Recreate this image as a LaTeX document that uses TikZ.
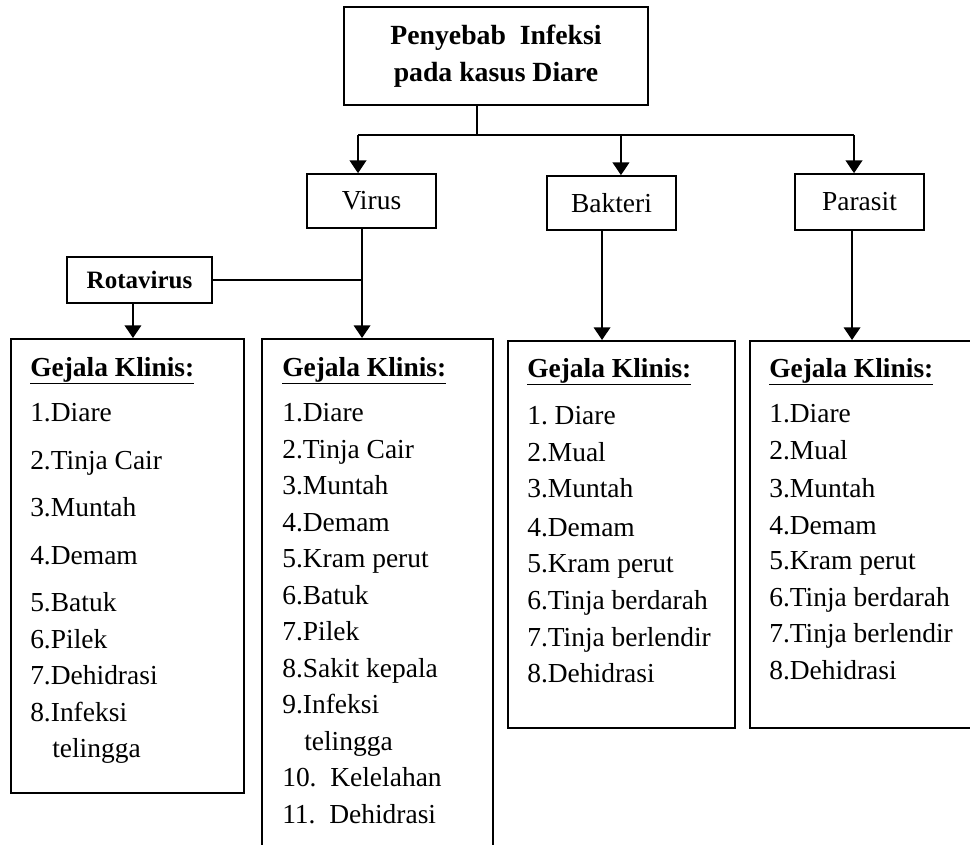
\documentclass[tikz,border=0pt]{standalone}
\usepackage{fontspec}
\setmainfont{Liberation Serif}
\usepackage{tikz}
\usetikzlibrary{arrows.meta}

\begin{document}
\begin{tikzpicture}[x=0.75pt,y=0.75pt,yscale=-1,xscale=1,
  kotak/.style={draw, line width=1.3pt, inner sep=0pt},
  garis/.style={line width=1.1pt},
  panah/.style={garis, -{Triangle[length=9.5pt,width=12.5pt]}},
  huruf/.style={font=\fontsize{20.6}{24}\selectfont},
  isi/.style={huruf, anchor=base west, inner sep=0pt},
  judulkolom/.style={isi, font=\fontsize{20.6}{24}\selectfont\bfseries}]
%set diagram size: 970 x 844
\clip (0,0) rectangle (970,844);

%Shape: Rectangle [judul]
\node[kotak, minimum width=228pt, minimum height=73.5pt, align=center,
  font=\fontsize{20.8}{27.75}\selectfont\bfseries] (judul) at (496,56) {Penyebab\ \ Infeksi\\pada kasus Diare};
%Shape: Rectangle [virus, bakteri, parasit]
\node[kotak, huruf, minimum width=96.75pt, minimum height=40.5pt] (virus) at (371.5,201) {Virus};
\node[kotak, huruf, minimum width=96.75pt, minimum height=40.5pt] (bakteri) at (611.5,203) {Bakteri};
\node[kotak, huruf, minimum width=96.75pt, minimum height=42pt] (parasit) at (859.5,202) {Parasit};
%Shape: Rectangle [rotavirus]
\node[kotak, minimum width=108.75pt, minimum height=34.5pt,
  font=\fontsize{18.75}{22}\selectfont\bfseries] (rota) at (139.5,280) {Rotavirus};

%Shape: Rectangle [gejala klinis]
\node[kotak, anchor=north west, minimum width=174.75pt, minimum height=340.5pt] (gejalaRota) at (10,338) {};
\node[kotak, anchor=north west, minimum width=173.25pt, minimum height=399pt] (gejalaVirus) at (261,338) {};
\node[kotak, anchor=north west, minimum width=170.25pt, minimum height=290.25pt] (gejalaBakteri) at (507,340) {};
\node[kotak, anchor=north west, minimum width=180.75pt, minimum height=290.25pt] (gejalaParasit) at (749,340) {};

%Straight Lines [cabang]
\coordinate (kiri) at (358,135);
\coordinate (kanan) at (854,135);
\draw[garis] ([xshift=-14.25pt]judul.south) -- ([xshift=-14.25pt]judul.south |- kiri);
\draw[garis] (kiri) -- (kanan);
\draw[panah] (kiri) -- (kiri |- virus.north);
\draw[panah] ([xshift=7.1pt]bakteri.north |- kiri) -- ([xshift=7.1pt]bakteri.north);
\draw[panah] (kanan) -- (kanan |- parasit.north);

%Straight Lines [ke gejala klinis]
\draw[panah] ([xshift=-7.1pt]virus.south) -- ([xshift=-7.1pt]virus.south |- gejalaVirus.north);
\draw[garis] (rota.east) -- ([xshift=-7.1pt]virus.south |- rota.east);
\draw[panah] ([xshift=-4.9pt]rota.south) -- ([xshift=-4.9pt]rota.south |- gejalaRota.north);
\draw[panah] ([xshift=-7.1pt]bakteri.south) -- ([xshift=-7.1pt]bakteri.south |- gejalaBakteri.north);
\draw[panah] ([xshift=-5.6pt]parasit.south) -- ([xshift=-5.6pt]parasit.south |- gejalaParasit.north);

% Text Node [judul kolom]
\node[judulkolom] (klinisRota) at (30,376) {\underline{Gejala Klinis:}};
\node[judulkolom] (klinisVirus) at (282,376) {\underline{Gejala Klinis:}};
\node[judulkolom] (klinisBakteri) at (527,377) {\underline{Gejala Klinis:}};
\node[judulkolom] (klinisParasit) at (769,377) {\underline{Gejala Klinis:}};

% Text Node [rotavirus]
\foreach \yy/\teks [count=\i] in {421/1.Diare, 469/2.Tinja Cair, 516/3.Muntah, 564/4.Demam,
  611/5.Batuk, 648/6.Pilek, 684/7.Dehidrasi, 721/8.Infeksi}
  \node[isi] (rota\i) at (30,\yy) {\teks};
\node[isi] (rota9) at (52,757) {telingga};

% Text Node [virus]
\foreach \yy/\teks [count=\i] in {421/1.Diare, 458/2.Tinja Cair, 494/3.Muntah, 531/4.Demam,
  567/5.Kram perut, 604/6.Batuk, 640/7.Pilek, 677/8.Sakit kepala, 713/9.Infeksi,
  786/{10.\ \ Kelelahan}, 823/{11.\ \ Dehidrasi}}
  \node[isi] (virus\i) at (282,\yy) {\teks};
\node[isi] (virus12) at (304,750) {telingga};

% Text Node [bakteri]
\foreach \yy/\teks [count=\i] in {424/1.\ Diare, 461/2.Mual, 497/3.Muntah, 536/4.Demam,
  572/5.Kram perut, 609/6.Tinja berdarah, 646/7.Tinja berlendir, 682/8.Dehidrasi}
  \node[isi] (bakteri\i) at (527,\yy) {\teks};

% Text Node [parasit]
\foreach \yy/\teks [count=\i] in {422/1.Diare, 459/2.Mual, 497/3.Muntah, 534/4.Demam,
  569/5.Kram perut, 606/6.Tinja berdarah, 642/7.Tinja berlendir, 679/8.Dehidrasi}
  \node[isi] (parasit\i) at (769,\yy) {\teks};

\end{tikzpicture}
\end{document}
